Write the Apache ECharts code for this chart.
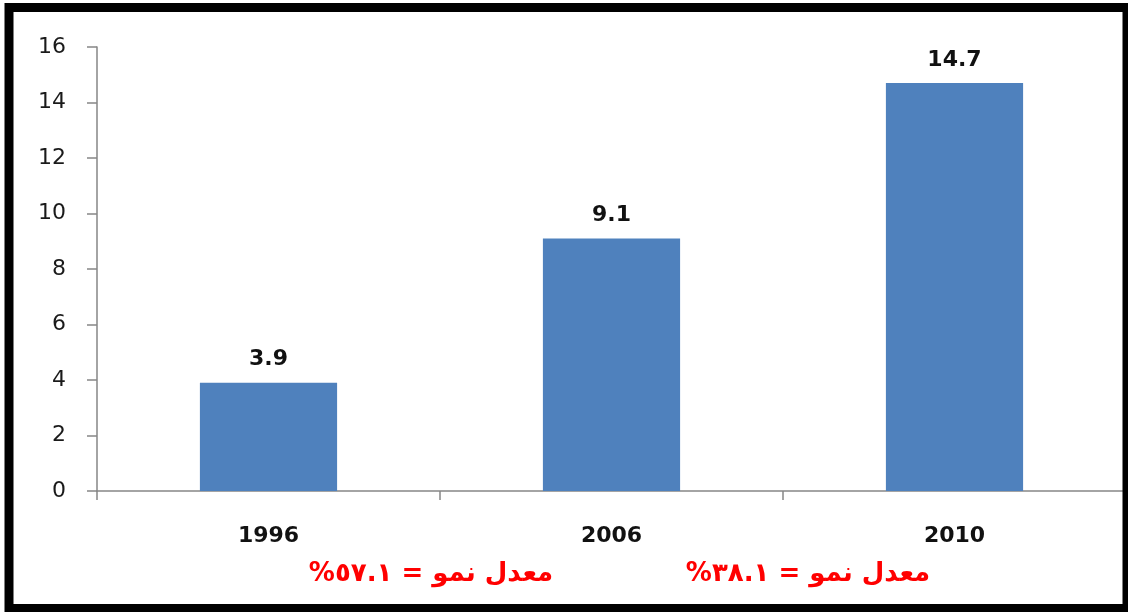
<!DOCTYPE html>
<html>
<head>
<meta charset="utf-8">
<script src="https://cdn.jsdelivr.net/npm/echarts@6/dist/echarts.min.js"></script>
<style>
html,body{margin:0;padding:0;background:#fff;}
#chart{width:1128px;height:612px;}
</style>
</head>
<body>
<div id="chart"></div>
<script>
var categories = ['1996', '2006', '2010'];
var values = [3.9, 9.1, 14.7];
var yTicks = { min: 0, max: 16, interval: 2 };
var growthNotes = ['معدل نمو = ٥٧.١%', 'معدل نمو = ٣٨.١%'];

var chart = echarts.init(document.getElementById('chart'), null, { renderer: 'canvas' });
var RLE = '\u202B', PDF = '\u202C';

chart.setOption({
  animation: false,
  backgroundColor: '#ffffff',
  grid: { left: 97, right: 2, top: 47, bottom: 121, containLabel: false },
  xAxis: {
    type: 'category',
    data: categories,
    axisLine: { show: true, lineStyle: { color: '#868686', width: 1.5 } },
    axisTick: { show: true, alignWithLabel: false, length: 9, lineStyle: { color: '#868686', width: 1.5 } },
    axisLabel: { margin: 34, color: '#111', fontFamily: 'DejaVu Sans', fontWeight: 'bold', fontSize: 22 },
    splitLine: { show: false }
  },
  yAxis: {
    type: 'value',
    min: yTicks.min, max: yTicks.max, interval: yTicks.interval,
    axisLine: { show: true, lineStyle: { color: '#868686', width: 1.5 } },
    axisTick: { show: true, length: 10, lineStyle: { color: '#868686', width: 1.5 } },
    axisLabel: { margin: 31, color: '#1a1a1a', fontFamily: 'DejaVu Sans', fontSize: 22 },
    splitLine: { show: false }
  },
  series: [{
    type: 'bar',
    data: values,
    barWidth: '40%',
    itemStyle: { color: '#4F81BD' },
    label: {
      show: true, position: 'top', distance: 12,
      color: '#111', fontFamily: 'DejaVu Sans', fontWeight: 'bold', fontSize: 22
    }
  }],
  graphic: [
    {
      type: 'text', z: 100,
      style: {
        text: RLE + growthNotes[0] + PDF, x: 431, y: 574,
        textAlign: 'center', textVerticalAlign: 'middle',
        fill: '#ff0000', font: 'bold 26px "DejaVu Sans"'
      }
    },
    {
      type: 'text', z: 100,
      style: {
        text: RLE + growthNotes[1] + PDF, x: 808, y: 574,
        textAlign: 'center', textVerticalAlign: 'middle',
        fill: '#ff0000', font: 'bold 26px "DejaVu Sans"'
      }
    },
    {
      type: 'rect', z: 200, silent: true,
      shape: { x: 9, y: 7.5, width: 1118, height: 601 },
      style: { fill: 'none', stroke: '#000', lineWidth: 9 }
    }
  ]
});
</script>
</body>
</html>
